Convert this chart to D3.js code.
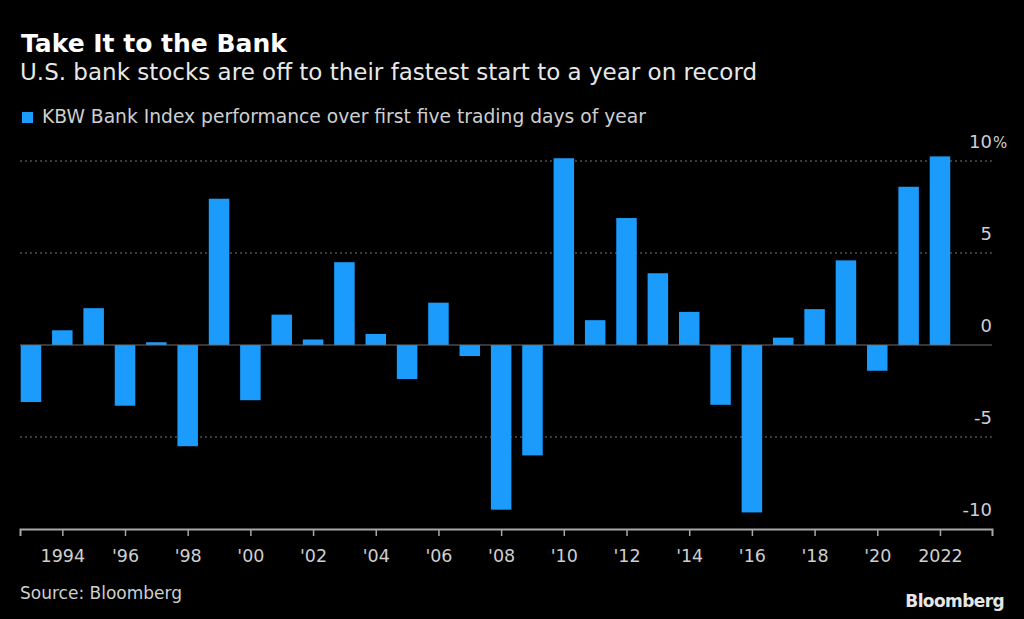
<!DOCTYPE html>
<html>
<head>
<meta charset="utf-8">
<script src="https://cdn.jsdelivr.net/npm/d3@7"></script>
<style>
    html, body { margin: 0; padding: 0; background: #000; }
    svg { display: block; font-family: 'DejaVu Sans', sans-serif; }
</style>
</head>
<body>
<svg id="chart" width="1024" height="619"></svg>
<script>
// Years shown on the x-axis, one bar per year
var years = d3.range(1993, 2023);

// KBW Bank Index % change over the first five trading days
var performance = [
    -3.1, 0.8, 2.0, -3.3, 0.15, -5.5, 7.95, -3.0, 1.65, 0.3,
    4.5, 0.6, -1.85, 2.3, -0.6, -8.95, -6.0, 10.15, 1.35, 6.9,
    3.9, 1.8, -3.25, -9.1, 0.4, 1.95, 4.6, -1.4, 8.6, 10.25
];

// Labelled ticks
var xTicks = [1994, 1996, 1998, 2000, 2002, 2004, 2006, 2008, 2010,
              2012, 2014, 2016, 2018, 2020, 2022];
var yTicks = [-10, -5, 0, 5, 10];

// Build the rows from the arrays
var dataSet = years.map(function(y, i) {
    return { year: y, value: performance[i] };
});

var svg = d3.select('#chart');

// Plot area (plotTop, not top: window.top is read-only)
var plotLeft = 20, plotRight = 992, plotTop = 161, plotBottom = 529;

// The x scale is continuous so the axis can run a little past the last bar
var xScale = d3.scaleLinear()
    .domain([1992.65, 2023.66])
    .range([plotLeft, plotRight]);

var yScale = d3.scaleLinear()
    .domain([-10, 10])
    .range([plotBottom, plotTop]);

var barWidth = 20.5;

// Title, subtitle and legend
svg.append('text')
    .attr('x', 21).attr('y', 52)
    .attr('fill', '#fff')
    .attr('font-size', '25px')
    .attr('font-weight', 'bold')
    .text('Take It to the Bank');

svg.append('text')
    .attr('x', 20).attr('y', 80)
    .attr('fill', '#e8e8e8')
    .attr('font-size', '23px')
    .text('U.S. bank stocks are off to their fastest start to a year on record');

svg.append('rect')
    .attr('x', 22).attr('y', 112)
    .attr('width', 11).attr('height', 11)
    .attr('fill', '#1b9cfc');

svg.append('text')
    .attr('x', 42).attr('y', 123)
    .attr('fill', '#cfcfcf')
    .attr('font-size', '18.7px')
    .text('KBW Bank Index performance over first five trading days of year');

// Dotted grid lines (the -10 line is the x-axis itself)
svg.append('g')
    .selectAll('line')
    .data(yTicks.filter(function(v) { return v != 0 && v != -10; }))
    .enter()
    .append('line')
    .attr('x1', plotLeft).attr('x2', plotRight)
    .attr('y1', function(v) { return yScale(v); })
    .attr('y2', function(v) { return yScale(v); })
    .attr('stroke', '#777')
    .attr('stroke-width', 1)
    .attr('stroke-dasharray', '2,3');

// Y labels sit just above their grid lines at the right edge
var yLabels = svg.append('g');
yLabels.selectAll('text')
    .data(yTicks)
    .enter()
    .append('text')
    .attr('x', plotRight)
    .attr('y', function(v) { return yScale(v) - 13; })
    .attr('text-anchor', 'end')
    .attr('fill', '#cfcfcf')
    .attr('font-size', '18px')
    .text(function(v) { return v < 0 ? '-' + Math.abs(v) : v; });

// The % unit hangs past the right edge on the top label
yLabels.append('text')
    .attr('x', plotRight + 1)
    .attr('y', yScale(10) - 13)
    .attr('fill', '#cfcfcf')
    .attr('font-size', '15px')
    .text('%');

// Bars
svg.append('g')
    .selectAll('rect')
    .data(dataSet)
    .enter()
    .append('rect')
    .attr('x', function(d) { return xScale(d.year) - barWidth / 2; })
    .attr('y', function(d) { return yScale(Math.max(0, d.value)); })
    .attr('width', barWidth)
    .attr('height', function(d) { return Math.abs(yScale(d.value) - yScale(0)); })
    .attr('fill', '#1b9cfc');

// Zero line
svg.append('line')
    .attr('x1', plotLeft).attr('x2', plotRight)
    .attr('y1', yScale(0)).attr('y2', yScale(0))
    .attr('stroke', '#6f6f6f')
    .attr('stroke-width', 1);

// X axis
var xAxis = d3.axisBottom(xScale)
    .tickValues(xTicks)
    .tickSizeOuter(0)
    .tickSize(7)
    .tickPadding(14)
    .tickFormat(function(y) {
        if (y == 1994 || y == 2022) { return y; }
        return "'" + String(y).slice(2);
    });

var axisG = svg.append('g')
    .attr('transform', 'translate(0,' + plotBottom + ')')
    .call(xAxis);

axisG.select('.domain')
    .attr('stroke', '#a8a8a8')
    .attr('stroke-width', 2);
axisG.selectAll('.tick line')
    .attr('stroke', '#a8a8a8')
    .attr('stroke-width', 1.5);
axisG.selectAll('.tick text')
    .attr('fill', '#cfcfcf')
    .attr('font-size', '17.5px')
    .attr('font-family', 'DejaVu Sans, sans-serif');

// Footer
svg.append('text')
    .attr('x', 20).attr('y', 599)
    .attr('fill', '#cfcfcf')
    .attr('font-size', '17px')
    .text('Source: Bloomberg');

svg.append('text')
    .attr('x', 1004).attr('y', 607)
    .attr('text-anchor', 'end')
    .attr('fill', '#e6e6e6')
    .attr('font-size', '17px')
    .attr('font-weight', 'bold')
    .attr('letter-spacing', '-0.6px')
    .text('Bloomberg');
</script>
</body>
</html>
